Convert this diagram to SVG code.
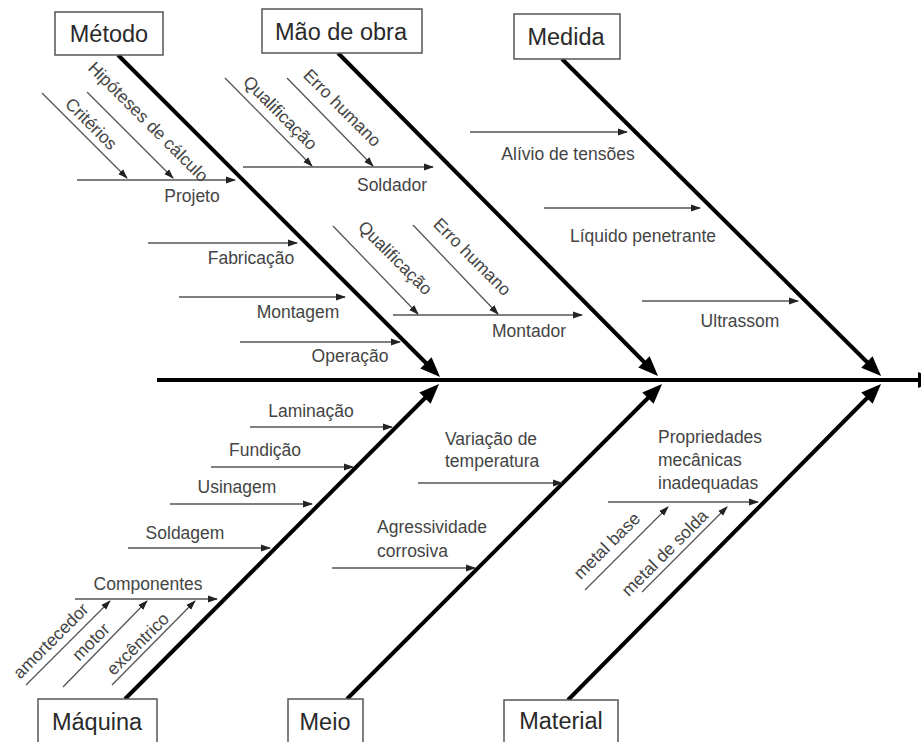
<svg xmlns="http://www.w3.org/2000/svg" width="921" height="742" viewBox="0 0 921 742">
<style>
.bg{fill:#ffffff}
.box{fill:#ffffff;stroke:#555;stroke-width:1.5}
.cat{font-family:"Liberation Sans",Arial,sans-serif;font-size:23.5px;fill:#2a2a2a;text-anchor:middle}
.lbl{font-family:"Liberation Sans",Arial,sans-serif;font-size:17.5px;fill:#444}
.mid{text-anchor:middle}
.bone{stroke:#000;stroke-width:4;fill:none;marker-end:url(#big)}
.sub{stroke:#555;stroke-width:1.3;fill:none;marker-end:url(#small)}
</style>
<defs>
<marker id="big" markerWidth="20" markerHeight="16" refX="10" refY="8" orient="auto" markerUnits="userSpaceOnUse"><path d="M0,0 L20,8 L0,16 z" fill="#000"/></marker>
<marker id="small" markerWidth="10" markerHeight="8" refX="9" refY="4" orient="auto" markerUnits="userSpaceOnUse"><path d="M0,0.5 L10,4 L0,7.5 z" fill="#222"/></marker>
</defs>
<rect class="bg" x="0" y="0" width="921" height="742"/>

<g id="connectors">
<!-- spine -->
<line class="bone" x1="157" y1="380" x2="928" y2="380"/>
<!-- main bones -->
<line class="bone" x1="118" y1="55" x2="433" y2="370"/>
<line class="bone" x1="338" y1="53" x2="651" y2="369"/>
<line class="bone" x1="562" y1="59" x2="874" y2="369"/>
<line class="bone" x1="125" y1="699" x2="432" y2="391"/>
<line class="bone" x1="347" y1="699" x2="655" y2="391"/>
<line class="bone" x1="568" y1="700" x2="874" y2="391"/>
</g>

<g id="metodo">
<rect class="box" x="55" y="12" width="108" height="43"/>
<text class="cat" x="109" y="42">Método</text>
<line class="sub" x1="77" y1="180" x2="235" y2="180"/>
<text class="lbl mid" x="192" y="202">Projeto</text>
<line class="sub" x1="42" y1="93" x2="127" y2="178"/>
<text class="lbl mid" transform="translate(87,128) rotate(45)">Critérios</text>
<line class="sub" x1="87" y1="92" x2="173" y2="178"/>
<text class="lbl mid" transform="translate(144,126) rotate(45)">Hipóteses de cálculo</text>
<line class="sub" x1="148" y1="243" x2="297" y2="243"/>
<text class="lbl mid" x="251" y="264">Fabricação</text>
<line class="sub" x1="179" y1="297" x2="345" y2="297"/>
<text class="lbl mid" x="298" y="318">Montagem</text>
<line class="sub" x1="240" y1="342" x2="400" y2="342"/>
<text class="lbl mid" x="350" y="362">Operação</text>
</g>

<g id="mao-de-obra">
<rect class="box" x="262" y="9" width="160" height="44"/>
<text class="cat" x="341" y="40">Mão de obra</text>
<line class="sub" x1="243" y1="167" x2="433" y2="167"/>
<text class="lbl mid" x="392" y="191">Soldador</text>
<line class="sub" x1="225" y1="78" x2="312" y2="166"/>
<text class="lbl mid" transform="translate(276,117) rotate(45)">Qualificação</text>
<line class="sub" x1="287" y1="78" x2="373" y2="166"/>
<text class="lbl mid" transform="translate(338,112) rotate(45)">Erro humano</text>
<line class="sub" x1="393" y1="315" x2="582" y2="315"/>
<text class="lbl mid" x="529" y="337">Montador</text>
<line class="sub" x1="333" y1="226" x2="418" y2="314"/>
<text class="lbl mid" transform="translate(391,262) rotate(45)">Qualificação</text>
<line class="sub" x1="413" y1="225" x2="498" y2="314"/>
<text class="lbl mid" transform="translate(468,261) rotate(45)">Erro humano</text>
</g>

<g id="medida">
<rect class="box" x="514" y="14" width="106" height="45"/>
<text class="cat" x="566" y="45">Medida</text>
<line class="sub" x1="470" y1="132" x2="627" y2="132"/>
<text class="lbl mid" x="568" y="160">Alívio de tensões</text>
<line class="sub" x1="544" y1="208" x2="700" y2="208"/>
<text class="lbl mid" x="643" y="242">Líquido penetrante</text>
<line class="sub" x1="642" y1="301" x2="798" y2="301"/>
<text class="lbl mid" x="740" y="327">Ultrassom</text>
</g>

<g id="maquina">
<rect class="box" x="38" y="699" width="119" height="60"/>
<text class="cat" x="97" y="730">Máquina</text>
<line class="sub" x1="250" y1="427" x2="392" y2="427"/>
<text class="lbl mid" x="311" y="417">Laminação</text>
<line class="sub" x1="211" y1="467" x2="353" y2="467"/>
<text class="lbl mid" x="265" y="456">Fundição</text>
<line class="sub" x1="170" y1="504" x2="312" y2="504"/>
<text class="lbl mid" x="237" y="493">Usinagem</text>
<line class="sub" x1="128" y1="548" x2="270" y2="548"/>
<text class="lbl mid" x="185" y="539">Soldagem</text>
<line class="sub" x1="75" y1="599" x2="217" y2="599"/>
<text class="lbl mid" x="148" y="590">Componentes</text>
<line class="sub" x1="26" y1="685" x2="110" y2="601"/>
<text class="lbl mid" transform="translate(55,645) rotate(-45)">amortecedor</text>
<line class="sub" x1="63" y1="687" x2="147" y2="601"/>
<text class="lbl mid" transform="translate(95,646) rotate(-45)">motor</text>
<line class="sub" x1="112" y1="685" x2="195" y2="601"/>
<text class="lbl mid" transform="translate(142,648) rotate(-45)">excêntrico</text>
</g>

<g id="meio">
<rect class="box" x="288" y="699" width="75" height="60"/>
<text class="cat" x="325" y="730">Meio</text>
<line class="sub" x1="418" y1="483" x2="562" y2="483"/>
<text class="lbl" x="445" y="445">Variação de</text>
<text class="lbl" x="445" y="467">temperatura</text>
<line class="sub" x1="332" y1="568" x2="475" y2="568"/>
<text class="lbl" x="377" y="533">Agressividade</text>
<text class="lbl" x="377" y="557">corrosiva</text>
</g>

<g id="material">
<rect class="box" x="504" y="700" width="114" height="60"/>
<text class="cat" x="561" y="729">Material</text>
<line class="sub" x1="608" y1="502" x2="758" y2="502"/>
<text class="lbl" x="658" y="443">Propriedades</text>
<text class="lbl" x="658" y="466">mecânicas</text>
<text class="lbl" x="658" y="489">inadequadas</text>
<line class="sub" x1="585" y1="590" x2="668" y2="507"/>
<text class="lbl mid" transform="translate(611,550) rotate(-45)">metal base</text>
<line class="sub" x1="642" y1="592" x2="727" y2="507"/>
<text class="lbl mid" transform="translate(669,557) rotate(-45)">metal de solda</text>
</g>
</svg>
